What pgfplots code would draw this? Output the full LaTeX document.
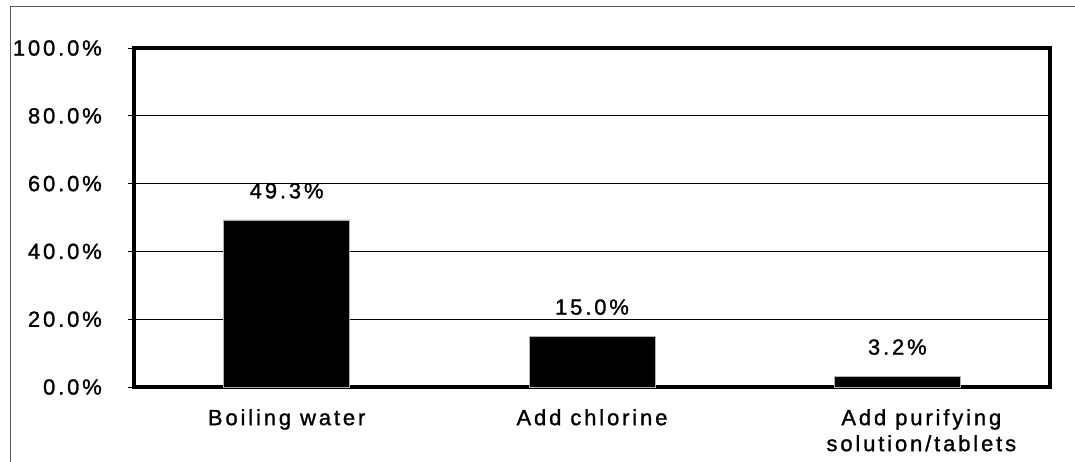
\documentclass[border=0pt]{standalone}
\usepackage{pgfplots}
\pgfplotsset{compat=1.18}
\usepackage{fontspec}
\setmainfont{Liberation Sans}[LetterSpace=13, FakeBold=1.2]

\begin{document}
\begin{tikzpicture}[x=1pt,y=1pt]
\useasboundingbox (0,0) rectangle (1075,461);
% outer chart frame (only left and top edges visible)
\draw[gray!70!black, line width=0.9pt] (10,-5) -- (10,455) -- (1080,455);
\begin{axis}[
    at={(134pt,74pt)}, anchor=south west,
    scale only axis,
    width=916pt, height=339pt,
    ybar, bar width=126pt,
    xmin=0.5, xmax=3.5,
    ymin=0, ymax=100,
    xtick={1,2,3},
    xticklabels={Boiling water, Add chlorine, {\hspace*{48pt}Add purifying\\\hspace*{48pt}solution/tablets}},
    xticklabel style={align=center, font=\fontsize{22}{26}\selectfont, anchor=north, inner sep=0pt, yshift=-16pt},
    x tick style={draw=none},
    extra x ticks={0.5,1.5,2.5,3.5},
    extra x tick labels={},
    extra x tick style={tick style={draw=black, line width=0.8pt}, major tick length=5pt, tick align=outside, grid=none},
    ytick={0,20,40,60,80,100},
    yticklabels={0.0\%,20.0\%,40.0\%,60.0\%,80.0\%,100.0\%},
    yticklabel style={font=\fontsize{22}{26}\selectfont, anchor=east, inner sep=0pt, xshift=-26pt},
    tick align=outside, tick pos=left,
    major tick length=6pt,
    y tick style={black, line width=0.8pt},
    ymajorgrids, grid style={black, line width=1.1pt},
    axis line style={line width=3.5pt},
    nodes near coords={\pgfmathprintnumber[fixed,fixed zerofill,precision=1,assume math mode=true]{\pgfplotspointmeta}\%},
    every node near coord/.append style={font=\fontsize{22}{26}\selectfont, anchor=south, inner sep=0pt, yshift=21pt, black},
]
\addplot[fill=black, draw=gray!60, line width=0.6pt] coordinates {(1,49.3) (2,15.0) (3,3.2)};
\end{axis}
\end{tikzpicture}
\end{document}
